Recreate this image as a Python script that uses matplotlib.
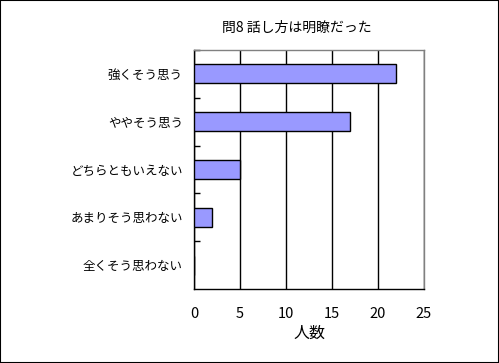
import matplotlib
matplotlib.use("Agg")
import matplotlib.pyplot as plt
from matplotlib.patches import Rectangle
import numpy as np

plt.rcParams['font.family'] = ['Noto Sans CJK JP', 'DejaVu Sans']

title = "問8 話し方は明瞭だった"
categories = ["強くそう思う", "ややそう思う", "どちらともいえない", "あまりそう思わない", "全くそう思わない"]
values = [22, 17, 5, 2, 0]
xticks = [0, 5, 10, 15, 20, 25]
xlabel = "人数"

fig = plt.figure(figsize=(4.99, 3.63), dpi=100)
fig.patches.append(Rectangle((0, 0), 1, 1, transform=fig.transFigure, fill=False,
                             edgecolor='black', linewidth=1.5))
ax = fig.add_axes([194/499, 74/363, 230/499, 239/363])

y = np.arange(len(categories))
ax.barh(y, values, height=0.4, color='#9999ff', edgecolor='black', linewidth=1, zorder=3)
ax.set_ylim(len(categories) - 0.5, -0.5)
ax.set_xlim(0, 25)
ax.set_xticks(xticks)
ax.set_xticklabels([str(t) for t in xticks], fontsize=10.5)
ax.set_yticks(y)
ax.set_yticklabels(categories, fontsize=9)
ax.tick_params(axis='y', which='major', length=0, pad=8)
ax.tick_params(axis='x', which='major', length=0, pad=13)
ax.set_yticks(np.arange(-0.5, len(categories) - 0.5 + 0.01, 1.0)[:-1], minor=True)
ax.tick_params(axis='y', which='minor', direction='in', length=4, width=1, color='black')
ax.grid(axis='x', color='black', linewidth=1, zorder=1)
ax.set_axisbelow(True)
for s in ['left', 'bottom']:
    ax.spines[s].set_color('black')
    ax.spines[s].set_linewidth(1)
for s in ['top', 'right']:
    ax.spines[s].set_color('#808080')
    ax.spines[s].set_linewidth(1)
ax.set_xlabel(xlabel, fontsize=11.5, labelpad=3)
fig.text(297/499, 1 - 28/363, title, fontsize=10, ha='center', va='center')

fig.savefig("out.png", dpi=100)
